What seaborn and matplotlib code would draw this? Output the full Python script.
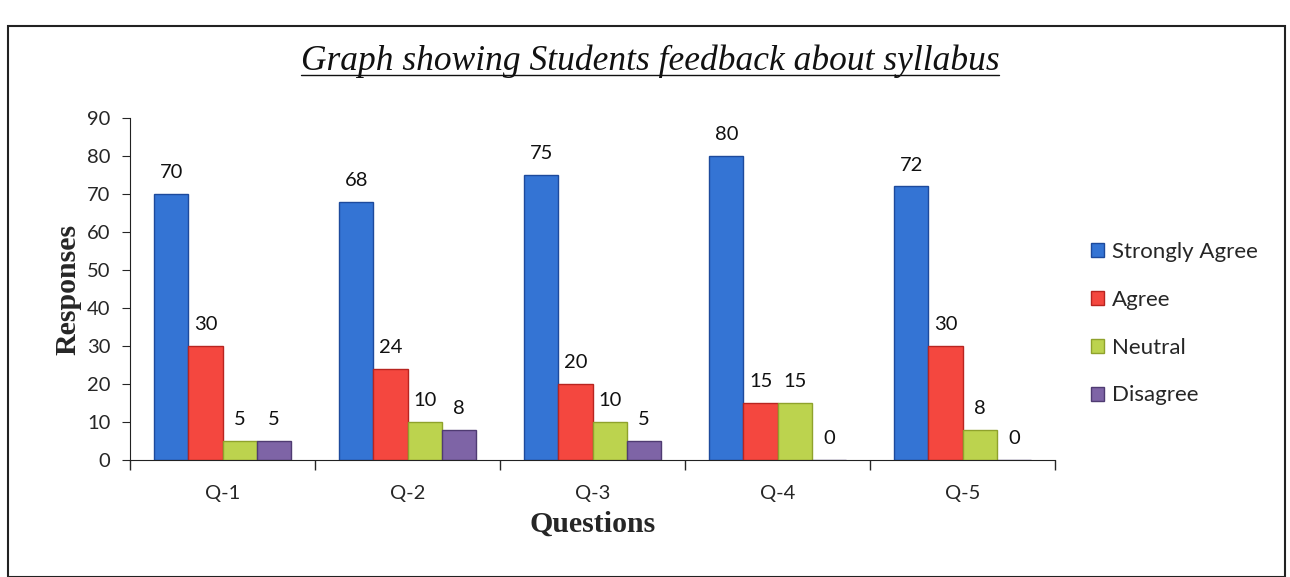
import pandas as pd
import matplotlib.pyplot as plt
import seaborn as sns
from matplotlib.patches import Rectangle
from matplotlib.lines import Line2D

preguntas = ['Q-1', 'Q-2', 'Q-3', 'Q-4', 'Q-5']
respuestas = ['Strongly Agree', 'Agree', 'Neutral', 'Disagree']
strongly_agree = [70, 68, 75, 80, 72]
agree = [30, 24, 20, 15, 30]
neutral = [5, 10, 10, 15, 8]
disagree = [5, 8, 5, 0, 0]

colores = ['#3474d4', '#f4473f', '#bcd34e', '#7e64a6']
bordes = ['#1d4a9c', '#b82420', '#8fa22c', '#4f3b72']

df = pd.DataFrame({
    'Pregunta': preguntas * 4,
    'Respuesta': sum([[r] * 5 for r in respuestas], []),
    'Valor': strongly_agree + agree + neutral + disagree,
})

sns.set_style("ticks")
plt.rcParams['font.family'] = ['Lato', 'DejaVu Sans']

fig = plt.figure(figsize=(12.9, 5.77), dpi=100)
ax = fig.add_axes([0.1008, 0.2028, 0.7172, 0.5927])

sns.barplot(data=df, x='Pregunta', y='Valor', hue='Respuesta', order=preguntas,
            hue_order=respuestas, palette=colores, width=0.74, ax=ax,
            linewidth=1, saturation=1, legend=True)

# bordes mas oscuros por serie
for cont, borde in zip(ax.containers, bordes):
    for p in cont:
        p.set_edgecolor(borde)
    ax.bar_label(cont, padding=9, fontsize=14.5, color='#111111')

ax.set_ylim(0, 90)
ax.set_yticks(range(0, 91, 10))
ax.set_xlim(-0.5, 4.5)
ax.set_xticks([i - 0.5 for i in range(6)], minor=True)
ax.tick_params(axis='x', which='major', length=0, pad=18, labelsize=14.5)
ax.tick_params(axis='x', which='minor', length=7, direction='out', width=1)
ax.tick_params(axis='y', length=6, labelsize=14.5, pad=8)
sns.despine(ax=ax)
ax.spines['left'].set_color('#222222')
ax.spines['bottom'].set_color('#222222')

ax.set_xlabel('Questions', family='Liberation Serif', fontweight='bold', fontsize=21.5, labelpad=6)
ax.set_ylabel('Responses', family='Liberation Serif', fontweight='bold', fontsize=21.5, labelpad=4)

# leyenda
handles, labels = ax.get_legend_handles_labels()
ax.legend_.remove()
for h, borde in zip(handles, bordes):
    h.set_edgecolor(borde)
fig.legend(handles, labels, loc='upper left', bbox_to_anchor=(0.83, 0.615),
           frameon=False, fontsize=16, handlelength=0.6, handleheight=0.6,
           handletextpad=0.35, labelspacing=1.25)

# titulo subrayado
titulo = fig.text(0.504, 0.893, 'Graph showing Students feedback about syllabus',
                  family='Liberation Serif', style='italic', fontsize=25.5,
                  ha='center', va='center', color='#111111')
fig.canvas.draw()
bb = titulo.get_window_extent().transformed(fig.transFigure.inverted())
fig.add_artist(Line2D([bb.x0, bb.x1], [bb.y0 + 0.006, bb.y0 + 0.006],
                      transform=fig.transFigure, color='#111111', lw=1))

# marco del grafico
fig.add_artist(Rectangle((0.006, 0.0), 0.99, 0.955, transform=fig.transFigure,
                         fill=False, edgecolor='#222222', lw=1.5))

plt.savefig('out.png', dpi=100)
plt.close()
